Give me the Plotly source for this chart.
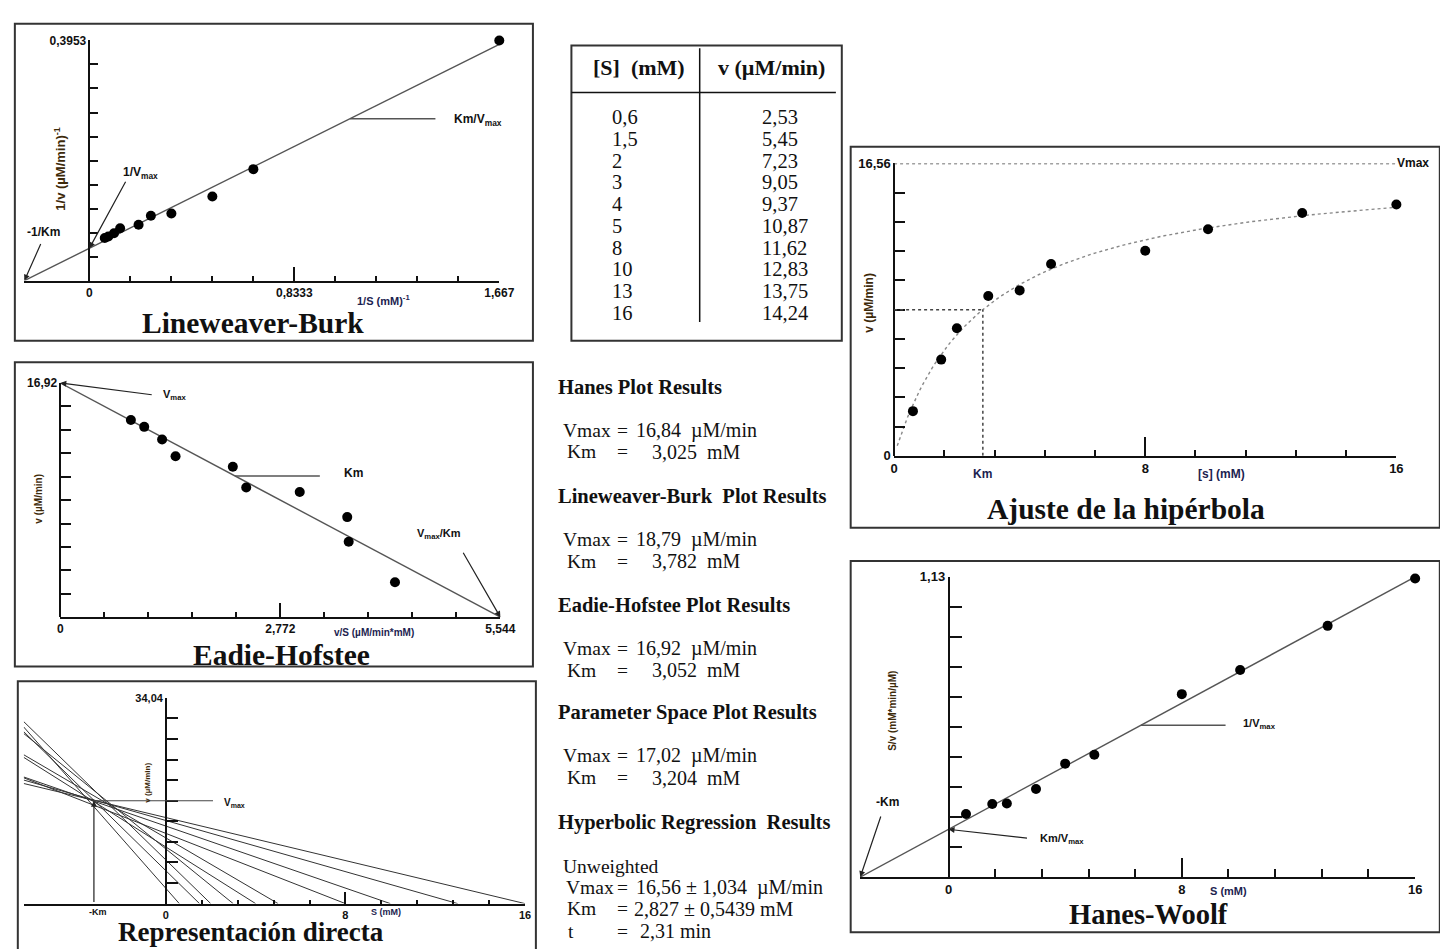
import numpy as np
import plotly.graph_objects as go

W, H = 1440, 949
SERIF = "Liberation Serif, Times New Roman, serif"
SANS = "Liberation Sans, Arial, sans-serif"
INK = "#111111"
YT_COL = "#3d2a0a"
XT_COL = "#1c2350"
LINE_COL = "#555555"
NB = "\u00a0"

# ---------------- data ----------------
S = [0.6, 1.5, 2, 3, 4, 5, 8, 10, 13, 16]                       # [S] (mM)
v = [2.53, 5.45, 7.23, 9.05, 9.37, 10.87, 11.62, 12.83, 13.75, 14.24]  # v (uM/min)

methods = ["Hanes Plot Results", "Lineweaver-Burk" + NB + " Plot Results",
           "Eadie-Hofstee Plot Results", "Parameter Space Plot Results",
           "Hyperbolic Regression" + NB + " Results"]
vmax_fit = [16.84, 18.79, 16.92, 17.02, 16.56]
km_fit = [3.025, 3.782, 3.052, 3.204, 2.827]
vmax_err = 1.034
km_err = 0.5439
t_fit = 2.31

# tick values / labels
lb_x_ticks = [0, 0.8333, 1.667]; lb_x_text = ["0", "0,8333", "1,667"]
lb_y_ticks = [0.19765, 0.3953]; lb_y_text = ["", "0,3953"]
eh_x_ticks = [0, 2.772, 5.544]; eh_x_text = ["0", "2,772", "5,544"]
eh_y_ticks = [8.46, 16.92]; eh_y_text = ["", "16,92"]
dp_x_ticks = [0, 8, 16]; dp_x_text = ["0", "8", "16"]
dp_y_ticks = [17.02, 34.04]; dp_y_text = ["", "34,04"]
hy_x_ticks = [0, 8, 16]; hy_x_text = ["0", "8", "16"]
hy_y_ticks = [0, 8.28, 16.56]; hy_y_text = ["0", "", "16,56"]
hw_x_ticks = [0, 8, 16]; hw_x_text = ["0", "8", "16"]
hw_y_ticks = [0.565, 1.13]; hw_y_text = ["", "1,13"]

S_a = np.array(S, float)
v_a = np.array(v, float)
vm_h, km_h = vmax_fit[0], km_fit[0]
vm_lb, km_lb = vmax_fit[1], km_fit[1]
vm_eh, km_eh = vmax_fit[2], km_fit[2]
vm_ps, km_ps = vmax_fit[3], km_fit[3]
vm_hy, km_hy = vmax_fit[4], km_fit[4]


def comma(x, fmt="{:g}"):
    return fmt.format(x).replace(".", ",")


# ---------------- panel geometry (pixels) ----------------
geo = {
    1: dict(xd=(20.5, 502), xr=(-0.265, 1.667), yd=(278, 34), yr=(0, 0.3953)),   # LB
    2: dict(xd=(57, 503), xr=(0, 5.544), yd=(620, 382), yr=(0, 16.92)),          # EH
    3: dict(xd=(20, 528), xr=(-6.33, 16), yd=(911, 702), yr=(0, 34.04)),         # direct
    4: dict(xd=(902, 1411), xr=(0, 16), yd=(456, 159), yr=(0, 16.56)),           # hyperbola
    5: dict(xd=(867, 1430), xr=(-3.05, 16), yd=(884, 579), yr=(0, 1.13)),        # Hanes
}

layout = dict(width=W, height=H, margin=dict(l=0, r=0, t=0, b=0),
              paper_bgcolor="white", plot_bgcolor="white", showlegend=False)


def axes(idx, xt, xtt, xminor, yt, ytt, yminor, xlen, xmlen, ylen, ymlen, fs=12):
    g = geo[idx]
    xd0, xd1 = g["xd"]; xr0, xr1 = g["xr"]
    yd0, yd1 = g["yd"]; yr0, yr1 = g["yr"]
    sfx = "" if idx == 1 else str(idx)
    common = dict(showgrid=False, zeroline=False, showline=True, linecolor=INK,
                  linewidth=1.5, ticks="inside", tickcolor=INK, tickwidth=1.5,
                  tickmode="array", fixedrange=True,
                  tickfont=dict(family=SANS, size=fs, color=INK, weight="bold"))
    x0px = xd0 + (0 - xr0) / (xr1 - xr0) * (xd1 - xd0)
    layout["xaxis" + sfx] = dict(common, domain=[xd0 / W, xd1 / W], range=[xr0, xr1],
                                 anchor="y" + sfx, tickvals=xt, ticktext=xtt, ticklen=xlen,
                                 minor=dict(tickvals=xminor, ticklen=xmlen, ticks="inside",
                                            tickcolor=INK, tickwidth=1.5, showgrid=False))
    layout["yaxis" + sfx] = dict(common, domain=[1 - yd0 / H, 1 - yd1 / H], range=[yr0, yr1],
                                 anchor="free", position=x0px / W, tickvals=yt, ticktext=ytt,
                                 ticklen=ylen,
                                 minor=dict(tickvals=yminor, ticklen=ymlen, ticks="inside",
                                            tickcolor=INK, tickwidth=1.5, showgrid=False))
    return "x" + sfx, "y" + sfx


def steps(top, n=10):
    return list(np.linspace(0, top, n + 1)[1:])


ax_lb = axes(1, lb_x_ticks, lb_x_text, steps(1.667), lb_y_ticks, lb_y_text, steps(0.3953), 14, 5, 20, 8)
ax_eh = axes(2, eh_x_ticks, eh_x_text, steps(5.544), eh_y_ticks, eh_y_text, steps(16.92), 14, 5, 22, 10)
ax_dp = axes(3, dp_x_ticks, dp_x_text, steps(16), dp_y_ticks, dp_y_text, steps(34.04), 12, 4, 24, 11, fs=11)
ax_hy = axes(4, hy_x_ticks, hy_x_text, steps(16), hy_y_ticks, hy_y_text, steps(16.56), 19, 6, 20, 10, fs=13)
ax_hw = axes(5, hw_x_ticks, hw_x_text, steps(16), hw_y_ticks, hw_y_text, steps(1.13), 19, 8, 22, 13, fs=13)

fig = go.Figure()
MK = dict(color="black", size=10)


def pts(x, y, ax):
    fig.add_trace(go.Scatter(x=x, y=y, mode="markers", marker=MK, xaxis=ax[0], yaxis=ax[1],
                             cliponaxis=False, hoverinfo="skip"))


def line(x, y, ax, color=LINE_COL, width=1.4, dash="solid"):
    fig.add_trace(go.Scatter(x=x, y=y, mode="lines", line=dict(color=color, width=width, dash=dash),
                             xaxis=ax[0], yaxis=ax[1], cliponaxis=False, hoverinfo="skip"))


# Lineweaver-Burk
inv_S = 1 / S_a
inv_v = 1 / v_a
lb_fit = lambda x: x * km_lb / vm_lb + 1 / vm_lb
lb_x = np.array([-1 / km_lb, inv_S.max()])
line(lb_x, lb_fit(lb_x), ax_lb)
pts(inv_S, inv_v, ax_lb)

# Eadie-Hofstee
vS = v_a / S_a
line([0, vm_eh / km_eh], [vm_eh, 0], ax_eh)
pts(vS, v_a, ax_eh)

# Direct linear plot
xl = geo[3]["xr"][0]
for s_i, v_i in zip(S, v):
    xs = np.array([xl, s_i])
    line(xs, v_i * (1 - xs / s_i), ax_dp, color="#333333", width=1.0)

# Hyperbola
curve_s = np.linspace(0.1, 16, 160)
line(curve_s, vm_hy * curve_s / (km_hy + curve_s), ax_hy, color="#888888", width=1.4, dash="dot")
pts(S_a, v_a, ax_hy)

# Hanes-Woolf
Sv = S_a / v_a
hw_x = np.array([-km_h, S_a.max()])
line(hw_x, (hw_x + km_h) / vm_h, ax_hw)
pts(S_a, Sv, ax_hw)

# ---------------- shapes ----------------
shapes = []


def rect(x0, y0, x1, y1, w=2, col="#333333"):
    shapes.append(dict(type="rect", xref="paper", yref="paper", x0=x0 / W, x1=x1 / W,
                       y0=1 - y0 / H, y1=1 - y1 / H, line=dict(color=col, width=w)))


def pline(x0, y0, x1, y1, w=1.5, col=INK):
    shapes.append(dict(type="line", xref="paper", yref="paper", x0=x0 / W, x1=x1 / W,
                       y0=1 - y0 / H, y1=1 - y1 / H, line=dict(color=col, width=w)))


def dline(ax, x0, y0, x1, y1, w=1.5, col=LINE_COL, dash="solid"):
    shapes.append(dict(type="line", xref=ax[0], yref=ax[1], x0=x0, x1=x1, y0=y0, y1=y1,
                       line=dict(color=col, width=w, dash=dash)))


rect(11, 17, 536, 339)
rect(11, 361, 536, 670)
rect(14, 685, 539, 962)
rect(575, 39, 849, 339)
rect(858, 142, 1455, 529)
rect(858, 563, 1455, 940)
# table lines
pline(705, 42, 705, 320)
pline(575, 87, 843, 87)

# leaders
dline(ax_lb, 1.06, lb_fit(1.06), 1.407, lb_fit(1.06))
dline(ax_eh, 2.2, vm_eh - km_eh * 2.2, 3.27, vm_eh - km_eh * 2.2)
dline(ax_dp, -km_ps, vm_ps, 2.1, vm_ps, w=1.2, col="#444444")
dline(ax_hw, 6.6, (6.6 + km_h) / vm_h, 9.5, (6.6 + km_h) / vm_h)
# hyperbola guides
dline(ax_hy, 0, vm_hy, 16, vm_hy, w=1.5, col="#444444", dash="dot")
dline(ax_hy, km_hy, 0, km_hy, vm_hy / 2, w=1.5, col="#444444", dash="dot")
dline(ax_hy, 0, vm_hy / 2, km_hy, vm_hy / 2, w=1.5, col="#444444", dash="dot")

layout["shapes"] = shapes

# ---------------- annotations ----------------
ann = []


def txt(x, y, text, size=12, family=SANS, color=INK, bold=True, xanchor="center",
        yanchor="middle", angle=0):
    ann.append(dict(xref="paper", yref="paper", x=x / W, y=1 - y / H, text=text,
                    showarrow=False, xanchor=xanchor, yanchor=yanchor, textangle=angle,
                    font=dict(family=family, size=size, color=color,
                              weight="bold" if bold else "normal")))


def arrow(ax, hx, hy, tx_px, ty_px, col="#222222"):
    ann.append(dict(xref=ax[0], yref=ax[1], x=hx, y=hy, text="", showarrow=True,
                    ax=tx_px, ay=ty_px, arrowhead=2, arrowsize=1, arrowwidth=1.2,
                    arrowcolor=col, standoff=0))


TITLE = dict(size=29.5, family=SERIF, bold=True)
# Lineweaver-Burk
txt(252, 321, "Lineweaver-Burk", **TITLE)
txt(385, 298, "1/S (mM)<sup>-1</sup>", size=11, color=XT_COL)
txt(57, 165, "1/v (µM/min)<sup>-1</sup>", size=13, color=YT_COL, angle=-90)
txt(480, 115, "Km/V<sub>max</sub>", size=12)
txt(138, 169, "1/V<sub>max</sub>", size=12)
txt(40, 229, "-1/Km", size=12)
arrow(ax_lb, 0, 1 / vm_lb, 37, -68)
arrow(ax_lb, -1 / km_lb, 0, 17, -38)

# Eadie-Hofstee
txt(281, 658, "Eadie-Hofstee", **TITLE)
txt(375, 636, "v/S (µM/min*mM)", size=10, color=XT_COL)
txt(35, 500, "v (µM/min)", size=10, color=YT_COL, angle=-90)
txt(173, 394, "V<sub>max</sub>", size=11)
txt(354, 473, "Km", size=12)
txt(441, 535, "V<sub>max</sub>/Km", size=11)
arrow(ax_eh, 0, vm_eh, 93, 12)
arrow(ax_eh, vm_eh / km_eh, 0, -38, -66)

# Direct plot
txt(250, 940, "Representación directa", size=27, family=SERIF, bold=True)
txt(95, 920, "-Km", size=9)
txt(387, 920, "S (mM)", size=9, color=XT_COL)
txt(234, 809, "V<sub>max</sub>", size=10)
txt(145, 788, "v (µM/min)", size=8, color=YT_COL, angle=-90)
ann.append(dict(xref=ax_dp[0], yref=ax_dp[1], x=-km_ps, y=vm_ps, text="", showarrow=True,
                axref=ax_dp[0], ayref=ax_dp[1], ax=-km_ps, ay=0, arrowhead=2, arrowsize=1,
                arrowwidth=1.2, arrowcolor="#222222", standoff=0))

# Hyperbola
txt(1137, 510, "Ajuste de la hipérbola", **TITLE)
txt(1410, 159, "Vmax", size=12, xanchor="left")
txt(992, 474, "Km", size=12, color=XT_COL)
txt(1234, 474, "[s] (mM)", size=12, color=XT_COL)
txt(877, 300, "v (µM/min)", size=12, color=YT_COL, angle=-90)

# Hanes-Woolf
txt(1160, 922, "Hanes-Woolf", size=28.5, family=SERIF, bold=True)
txt(1241, 898, "S (mM)", size=11, color=XT_COL)
txt(901, 715, "S/v (mM*min/µM)", size=10, color=YT_COL, angle=-90)
txt(895, 808, "-Km", size=12)
txt(1072, 845, "Km/V<sub>max</sub>", size=11)
txt(1272, 729, "1/V<sub>max</sub>", size=11)
arrow(ax_hw, -km_h, 0, 21, -62)
arrow(ax_hw, 0, km_h / vm_h, 80, 9)

# Table
txt(643, 61, "[S]" + NB + " (mM)", size=22, family=SERIF)
txt(778, 61, "v (µM/min)", size=22, family=SERIF)
for i, (s_i, v_i) in enumerate(zip(S, v)):
    yy = 112 + i * 22.1
    txt(614, yy, comma(s_i), size=20.5, family=SERIF, bold=False, xanchor="left")
    txt(766, yy, comma(v_i, "{:.2f}"), size=20.5, family=SERIF, bold=False, xanchor="left")

# Results text block
head_y = [386, 497, 608, 717, 829]
HS = 20.5
LS = 19.5
RS = 20
for k in range(5):
    y0 = head_y[k]
    txt(559, y0, methods[k], size=HS, family=SERIF, xanchor="left")
    if k < 4:
        rows = [(44, "Vmax", 564, comma(vmax_fit[k], "{:.2f}") + NB + " µM/min", 638),
                (66, "Km", 569, comma(km_fit[k], "{:.3f}") + NB + " mM", 655)]
    else:
        txt(564, y0 + 44, "Unweighted", size=LS, family=SERIF, bold=False, xanchor="left")
        rows = [(66, "Vmax", 567, comma(vmax_fit[k], "{:.2f}") + " ± " + comma(vmax_err, "{:.3f}") + NB + " µM/min", 638),
                (87, "Km", 569, comma(km_fit[k], "{:.3f}") + " ± " + comma(km_err, "{:.4f}") + " mM", 636),
                (110, "t", 570, comma(t_fit, "{:.2f}") + " min", 642)]
    for dy, lab, lx, val, vx in rows:
        txt(lx, y0 + dy, lab, size=LS, family=SERIF, bold=False, xanchor="left")
        txt(627, y0 + dy, "=", size=LS, family=SERIF, bold=False)
        txt(vx, y0 + dy, val, size=RS, family=SERIF, bold=False, xanchor="left")

layout["annotations"] = ann
fig.update_layout(**layout)
fig.write_html("out.html", config={"displayModeBar": False},
               post_script="document.body.style.margin='0';document.body.style.overflow='hidden';")
